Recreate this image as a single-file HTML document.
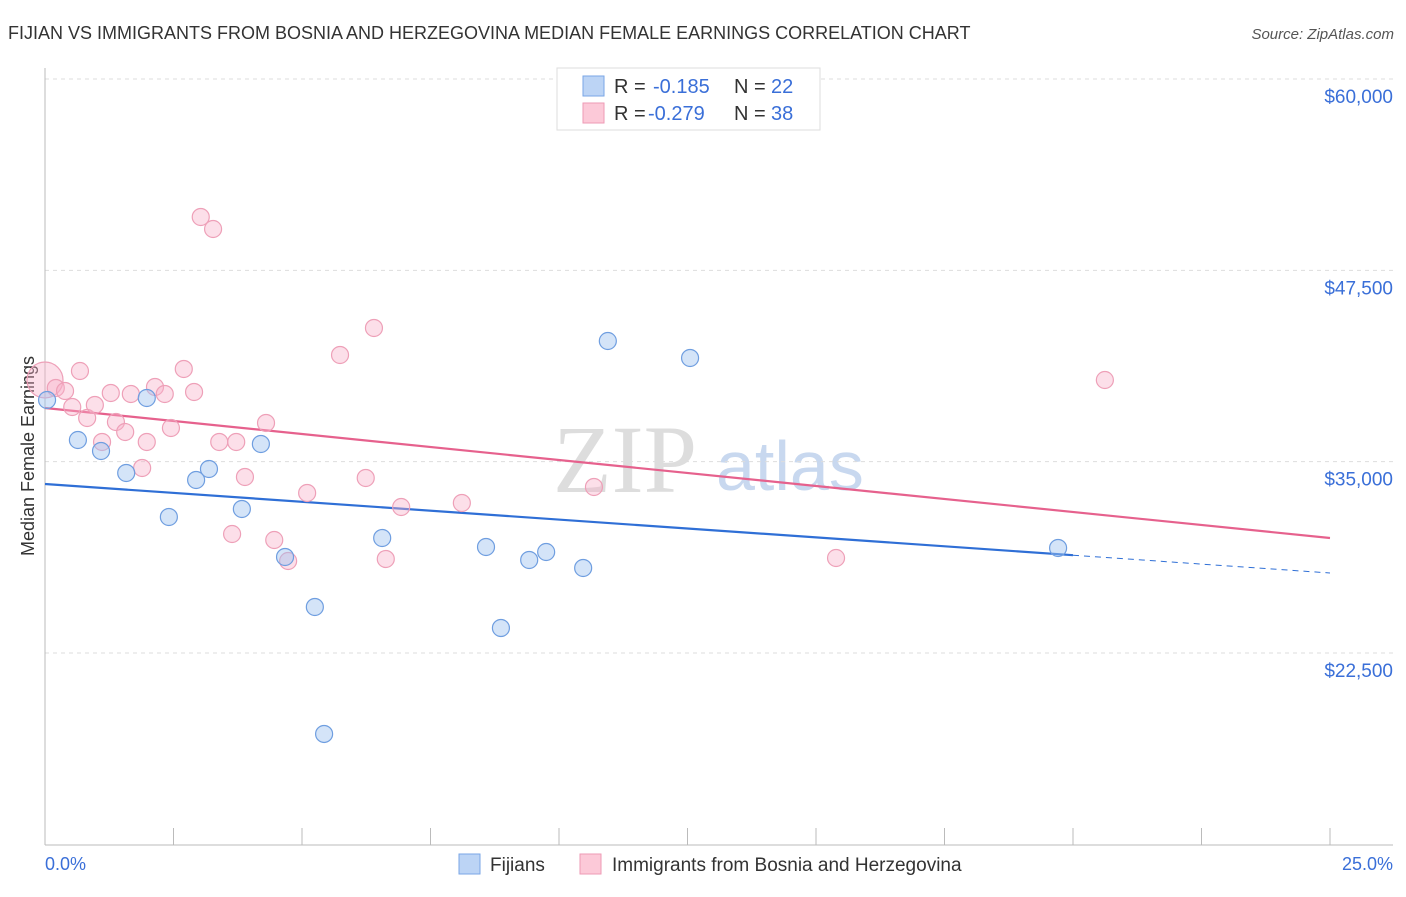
<!DOCTYPE html>
<html><head><meta charset="utf-8"><style>
body{margin:0;background:#fff;font-family:"Liberation Sans",sans-serif;}
</style></head><body>
<svg id="c" width="1406" height="892" xmlns="http://www.w3.org/2000/svg" style="font-family:'Liberation Sans',sans-serif">
<text x="8" y="39" font-size="18" fill="#333">FIJIAN VS IMMIGRANTS FROM BOSNIA AND HERZEGOVINA MEDIAN FEMALE EARNINGS CORRELATION CHART</text>
<text x="1394" y="39" font-size="15" fill="#555" font-style="italic" text-anchor="end">Source: ZipAtlas.com</text>
<text x="0" y="0" transform="translate(34,456) rotate(-90)" font-size="18" fill="#333" text-anchor="middle">Median Female Earnings</text>
<g><text x="553" y="492" font-size="96" fill="#ddd" font-family="Liberation Serif,serif">ZIP</text><text x="716" y="490" font-size="70" fill="#c8d8ef">atlas</text></g>
<g id="grid"></g><g id="lines"></g><g id="pts"></g>
<g>
<rect x="557" y="68" width="263" height="62" fill="#fff" stroke="#ddd"/>
<rect x="583" y="76" width="21" height="20" fill="#bcd4f5" stroke="#7aa6e6"/>
<rect x="583" y="103" width="21" height="20" fill="#fcc9d8" stroke="#ee9ab5"/>
<text x="614" y="93" font-size="20" fill="#333">R = </text><text x="653" y="93" font-size="20" fill="#3a6fd8">-0.185</text>
<text x="734" y="93" font-size="20" fill="#333">N = </text><text x="771" y="93" font-size="20" fill="#3a6fd8">22</text>
<text x="614" y="120" font-size="20" fill="#333">R = </text><text x="648" y="120" font-size="20" fill="#3a6fd8">-0.279</text>
<text x="734" y="120" font-size="20" fill="#333">N = </text><text x="771" y="120" font-size="20" fill="#3a6fd8">38</text>
</g>
<g>
<rect x="459" y="854" width="21" height="20" fill="#bcd4f5" stroke="#7aa6e6"/>
<text x="490" y="871" font-size="19" fill="#333">Fijians</text>
<rect x="580" y="854" width="21" height="20" fill="#fcc9d8" stroke="#ee9ab5"/>
<text x="612" y="871" font-size="19" fill="#333">Immigrants from Bosnia and Herzegovina</text>
</g>
<text x="45" y="870" font-size="18" fill="#3a6fd8">0.0%</text>
<text x="1393" y="870" font-size="18" fill="#3a6fd8" text-anchor="end">25.0%</text>
</svg>
<script>
const yTicks=[60000,47500,35000,22500];
const yTickLabels=["$60,000","$47,500","$35,000","$22,500"];
const xTicks=[0,2.5,5,7.5,10,12.5,15,17.5,20,22.5,25];
const fijX=[0.04,0.64,1.09,1.58,1.98,2.41,2.94,3.19,3.83,4.20,4.67,5.25,5.43,6.56,8.58,8.87,9.42,9.75,10.47,10.95,12.55,19.71];
const fijY=[39029,36415,35697,34260,39160,31385,33802,34521,31908,36154,28772,25506,17209,30013,29425,24133,28576,29098,28053,42883,41773,29360];
const bosX=[0,0.21,0.39,0.53,0.68,0.82,0.97,1.11,1.28,1.38,1.56,1.67,1.89,1.98,2.14,2.33,2.45,2.70,2.90,3.03,3.27,3.39,3.64,3.72,3.89,4.30,4.46,4.73,5.10,5.74,6.24,6.40,6.63,6.93,8.11,10.68,15.39,20.62];
const bosY=[40335,39813,39617,38571,40923,37853,38702,36285,39486,37591,36938,39421,34587,36285,39878,39421,37199,41054,39552,50985,50200,36285,30274,36285,33998,37526,29882,28510,32953,41969,33933,43733,28641,32038,32300,33345,28706,40335];
const fijTrend=[33541,27726];
const bosTrend=[38506,30013];
const NS="http://www.w3.org/2000/svg";
const X=v=>45+v/25*1285;
const Y=v=>79+(60000-v)/12500*191.33;
function mk(t,a,p){const e=document.createElementNS(NS,t);for(const k in a)e.setAttribute(k,a[k]);p.appendChild(e);return e;}
const g=document.getElementById('grid');
yTicks.forEach((t,i)=>{
 const l=mk('line',{x1:45,x2:1393,y1:Y(t),y2:Y(t),stroke:'#ddd','stroke-dasharray':'4 4'},g);
 
 
 const tx=mk('text',{x:1393,y:Y(t)+24,'font-size':19,fill:'#3a6fd8','text-anchor':'end'},g);
 tx.textContent=yTickLabels[i];
 
 
});
const ax=mk('line',{x1:45,x2:45,y1:68,y2:845,stroke:'#bbb'},g);


const bx=mk('line',{x1:45,x2:1393,y1:845,y2:845,stroke:'#bbb'},g);


xTicks.forEach(t=>{
 const l=mk('line',{x1:X(t),x2:X(t),y1:828,y2:845,stroke:'#bbb'},g);
 
 
});
const p=document.getElementById('pts');
bosX.forEach((v,i)=>{
 const c=mk('circle',{cx:X(v),cy:Y(bosY[i]),r:i===0?18:8.5,fill:'rgba(248,176,200,0.4)',stroke:'#eea0b8','stroke-width':1.2},p);
 
 
});
fijX.forEach((v,i)=>{
 const c=mk('circle',{cx:X(v),cy:Y(fijY[i]),r:8.5,fill:'rgba(160,196,240,0.45)',stroke:'#6f9ee0','stroke-width':1.2},p);
 
 
});
const L=document.getElementById('lines');
const fy=x=>fijTrend[0]+(fijTrend[1]-fijTrend[0])*x/25;
const by=x=>bosTrend[0]+(bosTrend[1]-bosTrend[0])*x/25;
const xe=20;
const f1=mk('line',{x1:X(0),y1:Y(fy(0)),x2:X(xe),y2:Y(fy(xe)),stroke:'#2f6fd6','stroke-width':2.2},L);


const f2=mk('line',{x1:X(xe),y1:Y(fy(xe)),x2:X(25),y2:Y(fy(25)),stroke:'#2f6fd6','stroke-width':1,'stroke-dasharray':'6 5'},L);


const b1=mk('line',{x1:X(0),y1:Y(by(0)),x2:X(25),y2:Y(by(25)),stroke:'#e6618d','stroke-width':2.2},L);


</script>
</body></html>
